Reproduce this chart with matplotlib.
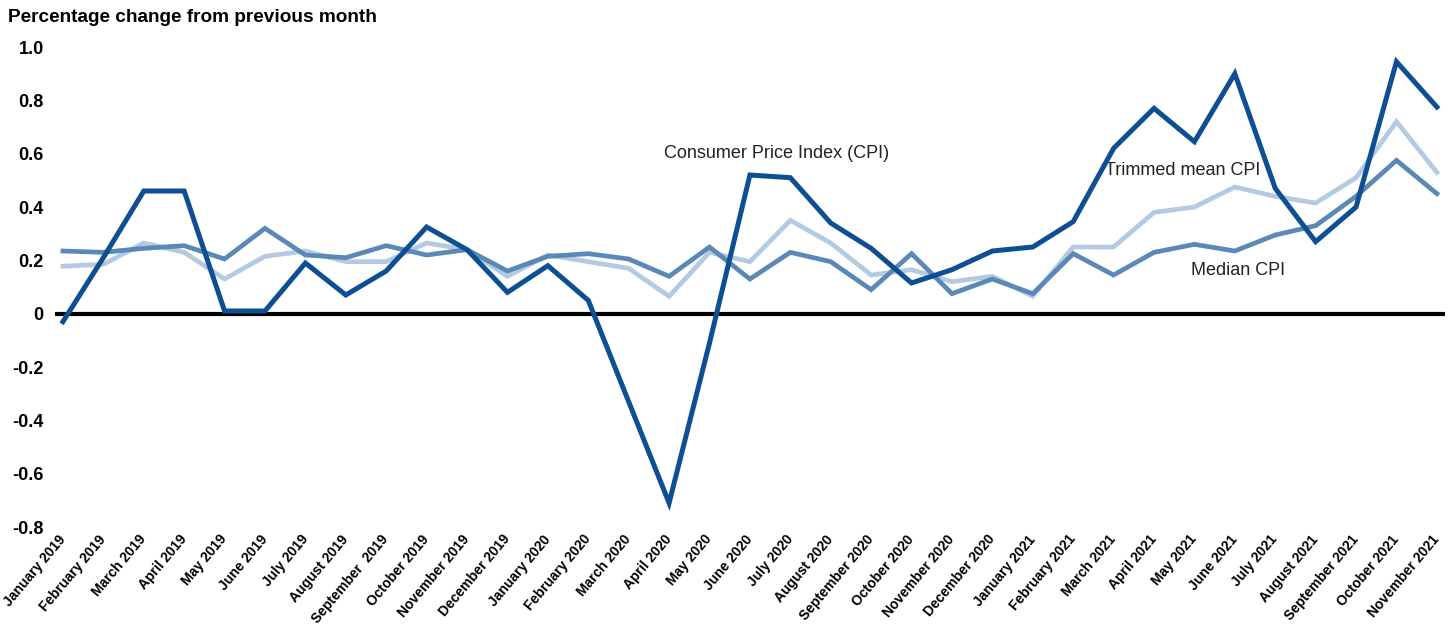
import matplotlib
matplotlib.use("Agg")
import matplotlib.pyplot as plt

months = ["January 2019", "February 2019", "March 2019", "April 2019", "May 2019", "June 2019",
          "July 2019", "August 2019", "September  2019", "October 2019", "November 2019", "December 2019",
          "January 2020", "February 2020", "March 2020", "April 2020", "May 2020", "June 2020",
          "July 2020", "August 2020", "September 2020", "October 2020", "November 2020", "December 2020",
          "January 2021", "February 2021", "March 2021", "April 2021", "May 2021", "June 2021",
          "July 2021", "August 2021", "September 2021", "October 2021", "November 2021"]

cpi = [-0.03, 0.21, 0.46, 0.46, 0.01, 0.01, 0.19, 0.07, 0.16, 0.325, 0.24, 0.08,
       0.18, 0.05, -0.33, -0.71, -0.11, 0.52, 0.51, 0.34, 0.245, 0.115, 0.165, 0.235,
       0.25, 0.345, 0.62, 0.77, 0.645, 0.90, 0.47, 0.27, 0.40, 0.945, 0.775]

median_cpi = [0.235, 0.23, 0.245, 0.255, 0.205, 0.32, 0.22, 0.21, 0.255, 0.22, 0.24, 0.16,
              0.215, 0.225, 0.205, 0.14, 0.25, 0.13, 0.23, 0.195, 0.09, 0.225, 0.075, 0.13,
              0.075, 0.225, 0.145, 0.23, 0.26, 0.235, 0.295, 0.33, 0.44, 0.575, 0.45]

trimmed_cpi = [0.178, 0.185, 0.265, 0.23, 0.13, 0.215, 0.235, 0.195, 0.195, 0.265, 0.24, 0.14,
               0.22, 0.195, 0.17, 0.065, 0.23, 0.195, 0.35, 0.265, 0.145, 0.165, 0.12, 0.14,
               0.065, 0.25, 0.25, 0.38, 0.40, 0.475, 0.44, 0.415, 0.51, 0.72, 0.53]

yticks = [-0.8, -0.6, -0.4, -0.2, 0, 0.2, 0.4, 0.6, 0.8, 1.0]
ytick_labels = ["-0.8", "-0.6", "-0.4", "-0.2", "0", "0.2", "0.4", "0.6", "0.8", "1.0"]

plt.rcParams['font.family'] = ['Liberation Sans', 'DejaVu Sans']

fig = plt.figure(figsize=(14.55, 6.31), dpi=100)
ax = fig.add_axes([0.0377, 0.1648, 0.9554, 0.7607])

x = list(range(len(months)))
ax.axhline(0, color='black', lw=3.0, zorder=1)
ax.plot(x, trimmed_cpi, color='#b3cae2', lw=3.4, zorder=2, solid_joinstyle='miter')
ax.plot(x, median_cpi, color='#5a88b7', lw=3.4, zorder=3, solid_joinstyle='miter')
ax.plot(x, cpi, color='#0d4f92', lw=3.6, zorder=4, solid_joinstyle='miter')

ax.set_xlim(-0.2, 34.2)
ax.set_ylim(-0.8, 1.0)
for s in ax.spines.values():
    s.set_visible(False)

ax.set_yticks(yticks)
ax.set_yticklabels(ytick_labels, fontsize=13, fontweight='bold')
ax.tick_params(axis='y', length=0, pad=8)

ax.set_xticks(x)
ax.set_xticklabels(months, fontsize=10, fontweight='bold', rotation=50,
                   ha='right', va='center', rotation_mode='anchor')
ax.tick_params(axis='x', length=0, pad=7)

fig.text(0.0055, 0.972, "Percentage change from previous month", fontsize=13.7,
         fontweight='bold', ha='left', va='center')

ax.text(17.65, 0.60, "Consumer Price Index (CPI)", fontsize=13, ha='center', va='center', color='#222222')
ax.text(27.7, 0.538, "Trimmed mean CPI", fontsize=13, ha='center', va='center', color='#222222')
ax.text(29.08, 0.163, "Median CPI", fontsize=13, ha='center', va='center', color='#222222')

fig.savefig("out.png", dpi=100)
